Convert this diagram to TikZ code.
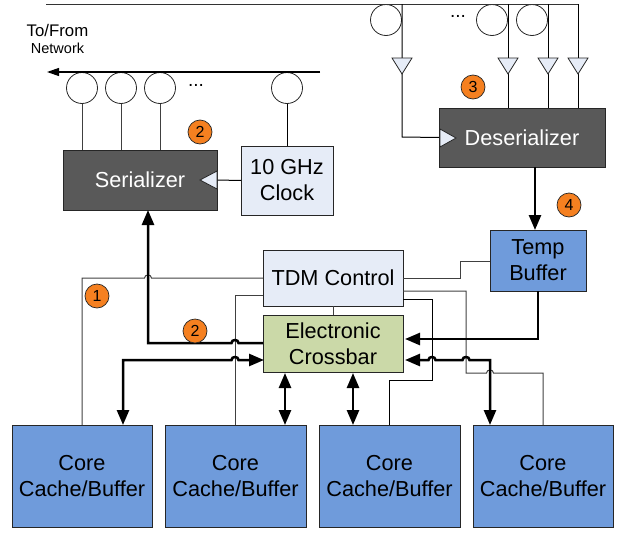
\documentclass[tikz,border=0pt]{standalone}
\usepackage{fontspec}
\setmainfont{Liberation Sans}
\usetikzlibrary{arrows.meta}
\definecolor{darkbox}{HTML}{595959}
\definecolor{lightbox}{HTML}{E6ECF7}
\definecolor{bluebox}{HTML}{6F9BDB}
\definecolor{greenbox}{HTML}{CBD9A8}
\definecolor{badgeor}{HTML}{F58020}
\definecolor{edgec}{HTML}{262626}
\newcommand{\hopL}{.. controls +(0,-4) and +(0,-4) .. ++(-7,0)}
\newcommand{\hopR}{.. controls +(0,-4) and +(0,-4) .. ++(7,0)}
\tikzset{
  x=1pt,y=-1pt,
  boxbase/.style={draw=edgec,line width=1pt,align=center,inner sep=0pt,outer sep=0pt,font=\fontsize{21.7}{26}\selectfont},
  darkb/.style={boxbase,fill=darkbox,text=white},
  lightb/.style={boxbase,fill=lightbox},
  blueb/.style={boxbase,fill=bluebox},
  greenb/.style={boxbase,fill=greenbox},
  ring/.style={circle,draw=edgec,line width=0.8pt,fill=white,minimum size=31pt,inner sep=0pt,outer sep=0pt},
  badge/.style={circle,draw=edgec,line width=0.7pt,fill=badgeor,minimum size=24pt,inner sep=0pt,font=\fontsize{16}{16}\selectfont},
  thin/.style={draw=black!75,line width=1pt},
  thick bus/.style={draw=black,line width=2.5pt},
  bustip/.style={-{Triangle[length=15pt,width=12pt]}},
  busboth/.style={{Triangle[length=15pt,width=12pt]}-{Triangle[length=15pt,width=12pt]}},
  dots/.style={font=\fontsize{19}{19}\selectfont,inner sep=0pt},
  amp/.style={draw=edgec,line width=0.8pt,fill=lightbox},
}
\begin{document}
\begin{tikzpicture}
\useasboundingbox (0,0) rectangle (618,533);
% boxes
\node[darkb,minimum width=154pt,minimum height=60pt] (ser) at (140,180) {Serializer};
\node[lightb,minimum width=92pt,minimum height=69pt] (clk) at (287,180.5) {10 GHz\\Clock};
\node[darkb,minimum width=166pt,minimum height=59pt] (des) at (522,137.5) {Deserializer};
\node[blueb,minimum width=96pt,minimum height=61pt] (tmp) at (538,260.5) {Temp\\Buffer};
\node[lightb,minimum width=140pt,minimum height=56pt] (tdm) at (333,278) {TDM Control};
\node[greenb,minimum width=140pt,minimum height=57pt] (xb) at (333,343.5) {Electronic\\Crossbar};
\node[blueb,minimum width=140pt,minimum height=102pt] (c1) at (82,476) {Core\\Cache/Buffer};
\node[blueb,minimum width=141pt,minimum height=102pt] (c2) at (235.5,476) {Core\\Cache/Buffer};
\node[blueb,minimum width=141pt,minimum height=102pt] (c3) at (389.5,476) {Core\\Cache/Buffer};
\node[blueb,minimum width=140pt,minimum height=102pt] (c4) at (543,476) {Core\\Cache/Buffer};
% labels
\node[inner sep=0pt,font=\fontsize{16.8}{17}\selectfont] (lblA) at (57.5,30) {To/From};
\node[inner sep=0pt,font=\fontsize{14.5}{15}\selectfont] (lblB) at (57.5,48) {Network};
% rings
\foreach \n/\xx in {sa/82,sb/121,sc/160,sd/287}
  \node[ring] (\n) at (\xx,88) {};
\foreach \n/\xx in {da/386,db/492,dc/532}
  \node[ring] (\n) at (\xx,20) {};
\node[dots] (dotsA) at (196,85) {...};
\node[dots] (dotsB) at (458,16) {...};
% top line and network line
\coordinate (netR) at (320,72); \coordinate (netL) at (47,72);
\draw[draw=black,line width=1.2pt,-{Triangle[length=12pt,width=8pt]}] (netR) -- (netL);
\coordinate (topL) at (46,4); \coordinate (topR) at (578,4);
\draw[draw=black!80,line width=1pt] (topL) -- (topR);
% serializer links
\foreach \n in {sa,sb,sc} \draw[thin] (\n.south) -- (\n.south |- ser.north);
\draw[thin,draw=black] (sd.south) -- (clk.north);
\draw[thin,draw=black] (clk.west) -- (ser.east);
\coordinate (sT1) at (217,171); \coordinate (sT2) at (217,189); \coordinate (sT3) at (200,180);
\draw[amp] (sT1) -- (sT2) -- (sT3) -- cycle;
% deserializer links
\foreach \n/\xx in {a/402,b/508,c/548,d/578}{
  \coordinate (v\n) at (\xx,4);
}
\draw[thin,draw=black] (va) -- (402,137) -- (des.west);
\foreach \n in {b,c,d} \draw[thin,draw=black] (v\n) -- (v\n |- des.north);
\foreach \n/\xx in {a/402,b/508,c/548,d/578}
  \draw[amp] (\xx-10,58) -- (\xx+10,58) -- (\xx,74) -- cycle;
\coordinate (dT1) at (440,129); \coordinate (dT2) at (440,147); \coordinate (dT3) at (456,138);
\draw[amp] (dT1) -- (dT2) -- (dT3) -- cycle;
% thin control lines
\draw[thin] (c1.north) -- (82,278) -- (144.5,278) \hopR -- (263,278);
\draw[thin] (tdm.west |- 0,295) -- (235,295) -- (235,425);
\draw[thin] (xb.north) -- (tdm.south);
\draw[thin] (tmp.west |- 0,261) -- (460.5,261) -- (460.5,278) -- (403,278);
\draw[thin,draw=black] (403,299) -- (432,299) -- (432,380) -- (389,380) -- (389,425);
\draw[thin] (403,291) -- (466,291) -- (466,373) -- (486.5,373) \hopR -- (543,373) -- (543,425);
% thick buses
\draw[thick bus,bustip] (xb.west |- 0,343) -- (238.5,343) \hopL -- (148,343) -- (ser.south -| 148,0);
\draw[thick bus,busboth] (123,425) -- (123,360) -- (231.5,360) \hopR -- (264,360);
\draw[thick bus,bustip] (tmp.south) -- (538,339) -- (405,339);
\draw[thick bus,busboth] (490,425) -- (490,360) -- (469.5,360) \hopL -- (435.5,360) \hopL -- (405,360);
\draw[thick bus,bustip] (des.south -| 535,0) -- (tmp.north -| 535,0);
\draw[thick bus,busboth] (285,373) -- (285,425);
\draw[thick bus,busboth] (353,373) -- (353,425);
% badges
\node[badge] (b1) at (97,296) {1};
\node[badge] (b2a) at (200,132) {2};
\node[badge] (b2b) at (195,331) {2};
\node[badge] (b3) at (473,87) {3};
\node[badge] (b4) at (569,205) {4};
\end{tikzpicture}
\end{document}
